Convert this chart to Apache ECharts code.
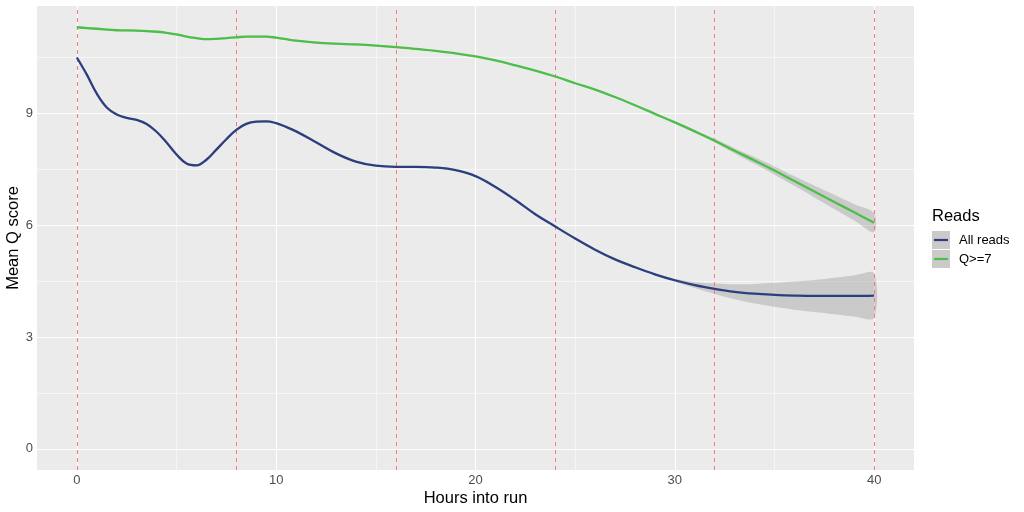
<!DOCTYPE html>
<html>
<head>
<meta charset="utf-8">
<script src="https://cdn.jsdelivr.net/npm/echarts@6/dist/echarts.min.js"></script>
<style>html,body{margin:0;padding:0;background:#fff}#c{width:1024px;height:512px}</style>
</head>
<body>
<div id="c"></div>
<script>
// ---- data ----
const allHours = [0,0.5,1,1.5,2,2.5,3,3.5,4,4.5,5,5.5,6,6.5,7,7.5,8,8.5,9,9.5,10,10.5,11,12,13,14,15,16,17,18,19,20,21,22,23,24,25,26,27,28,29,30,31,32,33,34,35,36,37,38,39,40];
const allMean = [10.49,10.03,9.52,9.15,8.96,8.87,8.82,8.71,8.50,8.21,7.89,7.65,7.60,7.75,8.02,8.30,8.55,8.71,8.77,8.78,8.73,8.63,8.51,8.22,7.92,7.70,7.59,7.56,7.56,7.54,7.47,7.31,7.02,6.67,6.29,5.96,5.64,5.34,5.08,4.87,4.68,4.52,4.39,4.29,4.21,4.16,4.13,4.11,4.10,4.10,4.10,4.11];
const allSe = [0.03,0.02,0.02,0.02,0.02,0.02,0.02,0.02,0.02,0.02,0.02,0.02,0.02,0.02,0.02,0.02,0.02,0.02,0.02,0.02,0.02,0.02,0.02,0.02,0.02,0.02,0.02,0.02,0.02,0.02,0.02,0.02,0.02,0.02,0.02,0.02,0.02,0.02,0.02,0.02,0.02,0.04,0.08,0.14,0.20,0.26,0.32,0.38,0.43,0.49,0.55,0.60];

const q7Hours = [0,1,2,3,4,4.5,5,5.5,6,6.5,7,7.5,8,8.5,9,9.5,10,10.5,11,12,13,14,15,16,17,18,19,20,21,22,23,24,25,26,27,28,29,30,31,32,33,34,35,36,37,38,39,40];
const q7Mean = [11.30,11.26,11.22,11.21,11.18,11.15,11.11,11.05,11.01,10.98,10.99,11.01,11.03,11.05,11.05,11.05,11.02,10.98,10.94,10.89,10.86,10.84,10.81,10.77,10.72,10.67,10.60,10.52,10.41,10.28,10.14,9.98,9.80,9.63,9.43,9.21,8.98,8.75,8.51,8.26,7.99,7.73,7.46,7.18,6.90,6.62,6.34,6.06];
const q7Se = [0.02,0.02,0.02,0.02,0.02,0.02,0.02,0.02,0.02,0.02,0.02,0.02,0.02,0.02,0.02,0.02,0.02,0.02,0.02,0.02,0.02,0.02,0.02,0.02,0.02,0.02,0.02,0.02,0.02,0.02,0.02,0.02,0.02,0.02,0.02,0.02,0.02,0.03,0.04,0.05,0.07,0.09,0.11,0.13,0.16,0.19,0.22,0.26];

const seriesNames = ['All reads', 'Q>=7'];
const xTicks = [0,10,20,30,40];
const xMinor = [5,15,25,35];
const yTicks = [0,3,6,9];
const yMinor = [1.5,4.5,7.5,10.5];
const flowcellHours = [0,8,16,24,32,40];

const BLUE = '#2D3E7E';
const GREEN = '#4EBE4B';
const BAND = 'rgba(153,153,153,0.4)';

function bandSeries(name, hours, mean, se) {
  const data = hours.map((h, i) => [h, mean[i] - se[i], mean[i] + se[i]]);
  return {
    type: 'custom',
    name: name + ' band',
    z: 2,
    silent: true,
    encode: { x: 0, y: [1, 2] },
    data: data,
    renderItem: function (params, api) {
      if (params.dataIndex !== 0) return null;
      const pts = [];
      for (let i = 0; i < data.length; i++) pts.push(api.coord([data[i][0], data[i][2]]));
      for (let i = data.length - 1; i >= 0; i--) pts.push(api.coord([data[i][0], data[i][1]]));
      return { type: 'polygon', shape: { points: pts, smooth: 0.3 }, style: { fill: BAND, stroke: null } };
    }
  };
}

const gridLineData = []
  .concat(xTicks.map(v => ({ xAxis: v, lineStyle: { width: 1.1 } })))
  .concat(xMinor.map(v => ({ xAxis: v, lineStyle: { width: 0.55 } })))
  .concat(yTicks.map(v => ({ yAxis: v, lineStyle: { width: 1.1 } })))
  .concat(yMinor.map(v => ({ yAxis: v, lineStyle: { width: 0.55 } })));

const chart = echarts.init(document.getElementById('c'), null, { renderer: 'canvas' });
const font = 'Liberation Sans, Arial, Helvetica, sans-serif';

chart.setOption({
  animation: false,
  backgroundColor: '#ffffff',
  textStyle: { fontFamily: font },
  grid: { left: 37, right: 110, top: 6, bottom: 42, show: true, backgroundColor: '#EBEBEB', borderWidth: 0, containLabel: false, outerBoundsMode: 'none' },
  title: { text: 'Reads', left: 932, top: 208, padding: 0, textStyle: { fontSize: 16.5, fontWeight: 'normal', color: '#000', fontFamily: font } },
  legend: {
    orient: 'vertical', left: 932, top: 231, itemWidth: 18, itemHeight: 18, itemGap: 1, padding: 0,
    icon: 'rect',
    textStyle: { fontSize: 13, color: '#000', fontFamily: font, padding: [0, 0, 0, 4] },
    selectedMode: false,
    data: [
      { name: seriesNames[0], itemStyle: { color: '#CACACA' } },
      { name: seriesNames[1], itemStyle: { color: '#CACACA' } }
    ]
  },
  graphic: [
    { type: 'line', shape: { x1: 934, y1: 240, x2: 948, y2: 240 }, style: { stroke: BLUE, lineWidth: 2.2 }, z: 100 },
    { type: 'line', shape: { x1: 934, y1: 259, x2: 948, y2: 259 }, style: { stroke: GREEN, lineWidth: 2.2 }, z: 100 }
  ],
  xAxis: {
    type: 'value', min: -2, max: 42,
    name: 'Hours into run', nameLocation: 'middle', nameGap: 20, nameMoveOverlap: false,
    nameTextStyle: { fontSize: 16.5, color: '#000', fontFamily: font },
    axisLine: { show: false },
    axisTick: { show: true, customValues: xTicks, length: 3, lineStyle: { color: '#333', width: 1 } },
    axisLabel: { customValues: xTicks, color: '#4D4D4D', fontSize: 13, margin: 4, fontFamily: font },
    splitLine: { show: false }
  },
  yAxis: {
    type: 'value', min: -0.565, max: 11.87,
    name: 'Mean Q score', nameLocation: 'middle', nameGap: 15, nameMoveOverlap: false,
    nameTextStyle: { fontSize: 16.5, color: '#000', fontFamily: font },
    axisLine: { show: false },
    axisTick: { show: true, customValues: yTicks, length: 3, lineStyle: { color: '#333', width: 1 } },
    axisLabel: { customValues: yTicks, color: '#4D4D4D', fontSize: 13, margin: 4, fontFamily: font },
    splitLine: { show: false }
  },
  series: [
    bandSeries(seriesNames[0], allHours, allMean, allSe),
    bandSeries(seriesNames[1], q7Hours, q7Mean, q7Se),
    {
      type: 'line', name: seriesNames[0], z: 4,
      data: allHours.map((h, i) => [h, allMean[i]]),
      smooth: 0.4, showSymbol: false, symbol: 'none',
      color: BLUE,
      lineStyle: { color: BLUE, width: 2.3 },
      markLine: {
        silent: true, symbol: 'none', z: 1, animation: false,
        label: { show: false },
        lineStyle: { color: '#ffffff', type: 'solid' },
        data: gridLineData
      }
    },
    {
      type: 'line', name: seriesNames[1], z: 4,
      data: q7Hours.map((h, i) => [h, q7Mean[i]]),
      smooth: 0.4, showSymbol: false, symbol: 'none',
      color: GREEN,
      lineStyle: { color: GREEN, width: 2.3 },
      markLine: {
        silent: true, symbol: 'none', z: 3, animation: false,
        label: { show: false },
        lineStyle: { color: '#F37A7A', type: [4, 4], width: 1 },
        data: flowcellHours.map(v => ({ xAxis: v }))
      }
    }
  ]
});
</script>
</body>
</html>
